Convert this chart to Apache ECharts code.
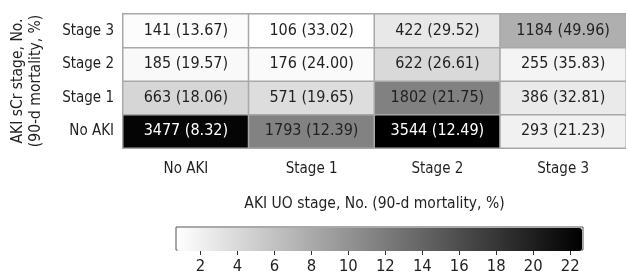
<!DOCTYPE html>
<html>
<head>
<meta charset="utf-8">
<script src="https://cdn.jsdelivr.net/npm/echarts@6/dist/echarts.min.js"></script>
<style>
  html, body { margin: 0; padding: 0; background: #fff; }
  #chart { width: 626px; height: 275px; }
</style>
</head>
<body>
<div id="chart"></div>
<script>
// AKI UO stage (columns) and AKI sCr stage (rows, bottom to top)
const uoStages = ['No AKI', 'Stage 1', 'Stage 2', 'Stage 3'];
const scrStages = ['No AKI', 'Stage 1', 'Stage 2', 'Stage 3'];

// patient counts per sCr row, across UO columns
const countNoAKI = [3477, 1793, 3544, 293];
const countStage1 = [663, 571, 1802, 386];
const countStage2 = [185, 176, 622, 255];
const countStage3 = [141, 106, 422, 1184];

// 90-day mortality (%) per sCr row, across UO columns
const mortNoAKI = [8.32, 12.39, 12.49, 21.23];
const mortStage1 = [18.06, 19.65, 21.75, 32.81];
const mortStage2 = [19.57, 24.00, 26.61, 35.83];
const mortStage3 = [13.67, 33.02, 29.52, 49.96];

// colour bar tick labels (share of patients, %)
const barTicks = [2, 4, 6, 8, 10, 12, 14, 16, 18, 20, 22];

const counts = [countNoAKI, countStage1, countStage2, countStage3];
const morts = [mortNoAKI, mortStage1, mortStage2, mortStage3];
const total = counts.flat().reduce((a, b) => a + b, 0);

// shade of each cell = its share of all patients
const cells = [];
counts.forEach((row, y) => {
  row.forEach((n, x) => {
    const share = n / total * 100;
    cells.push({
      value: [x, y, share, n, morts[y][x]],
      label: { color: share > 18 ? '#fff' : '#231f20' }
    });
  });
});
const shares = cells.map(c => c.value[2]);
const minShare = Math.min(...shares);
const maxShare = Math.max(...shares);

const font = "'DejaVu Sans Condensed', 'Liberation Sans Narrow', sans-serif";
const ink = '#231f20';

const chart = echarts.init(document.getElementById('chart'));
chart.setOption({
  backgroundColor: '#fff',
  animation: false,
  textStyle: { fontFamily: font, color: ink },
  grid: [
    { left: 123, top: 14, width: 512, height: 134 },
    { left: 176, top: 227, width: 407, height: 25, show: true,
      borderColor: '#555', borderWidth: 1, backgroundColor: 'transparent' }
  ],
  xAxis: [{
    type: 'category',
    data: uoStages,
    gridIndex: 0,
    axisLine: { show: false },
    axisTick: { show: false },
    axisLabel: { margin: 14, fontSize: 15, color: ink, fontFamily: font },
    name: 'AKI UO stage, No. (90-d mortality, %)',
    nameLocation: 'middle',
    nameGap: 48,
    nameTextStyle: { fontSize: 15.5, color: ink, fontFamily: font }
  }, {
    type: 'value',
    gridIndex: 1,
    min: minShare,
    max: maxShare,
    axisLine: { show: false },
    splitLine: { show: false },
    axisTick: { customValues: barTicks, length: 5, lineStyle: { color: '#333' } },
    axisLabel: { customValues: barTicks, margin: 8, fontSize: 16.5, color: ink, fontFamily: font }
  }],
  yAxis: [{
    type: 'category',
    data: scrStages,
    gridIndex: 0,
    axisLine: { show: false },
    axisTick: { show: false },
    axisLabel: { margin: 9, fontSize: 15, color: ink, fontFamily: font },
    name: 'AKI sCr stage, No.\n(90-d mortality, %)',
    nameLocation: 'middle',
    nameRotate: 90,
    nameGap: 78,
    nameTextStyle: { fontSize: 15.5, color: ink, fontFamily: font, lineHeight: 18 }
  }, {
    type: 'value',
    gridIndex: 1,
    show: false
  }],
  visualMap: {
    type: 'continuous',
    seriesIndex: 0,
    dimension: 2,
    min: minShare,
    max: maxShare,
    orient: 'horizontal',
    left: 177,
    top: 228,
    itemWidth: 23,
    itemHeight: 405,
    padding: 0,
    calculable: false,
    hoverLink: false,
    text: null,
    inRange: { color: ['#ffffff', '#000000'] }
  },
  series: [{
    type: 'heatmap',
    xAxisIndex: 0,
    yAxisIndex: 0,
    data: cells,
    itemStyle: { borderColor: '#a8a8a8', borderWidth: 1.5 },
    label: {
      show: true,
      fontSize: 16,
      fontFamily: font,
      formatter: p => p.value[3] + ' (' + p.value[4].toFixed(2) + ')'
    },
    emphasis: { disabled: true }
  }]
});
</script>
</body>
</html>
